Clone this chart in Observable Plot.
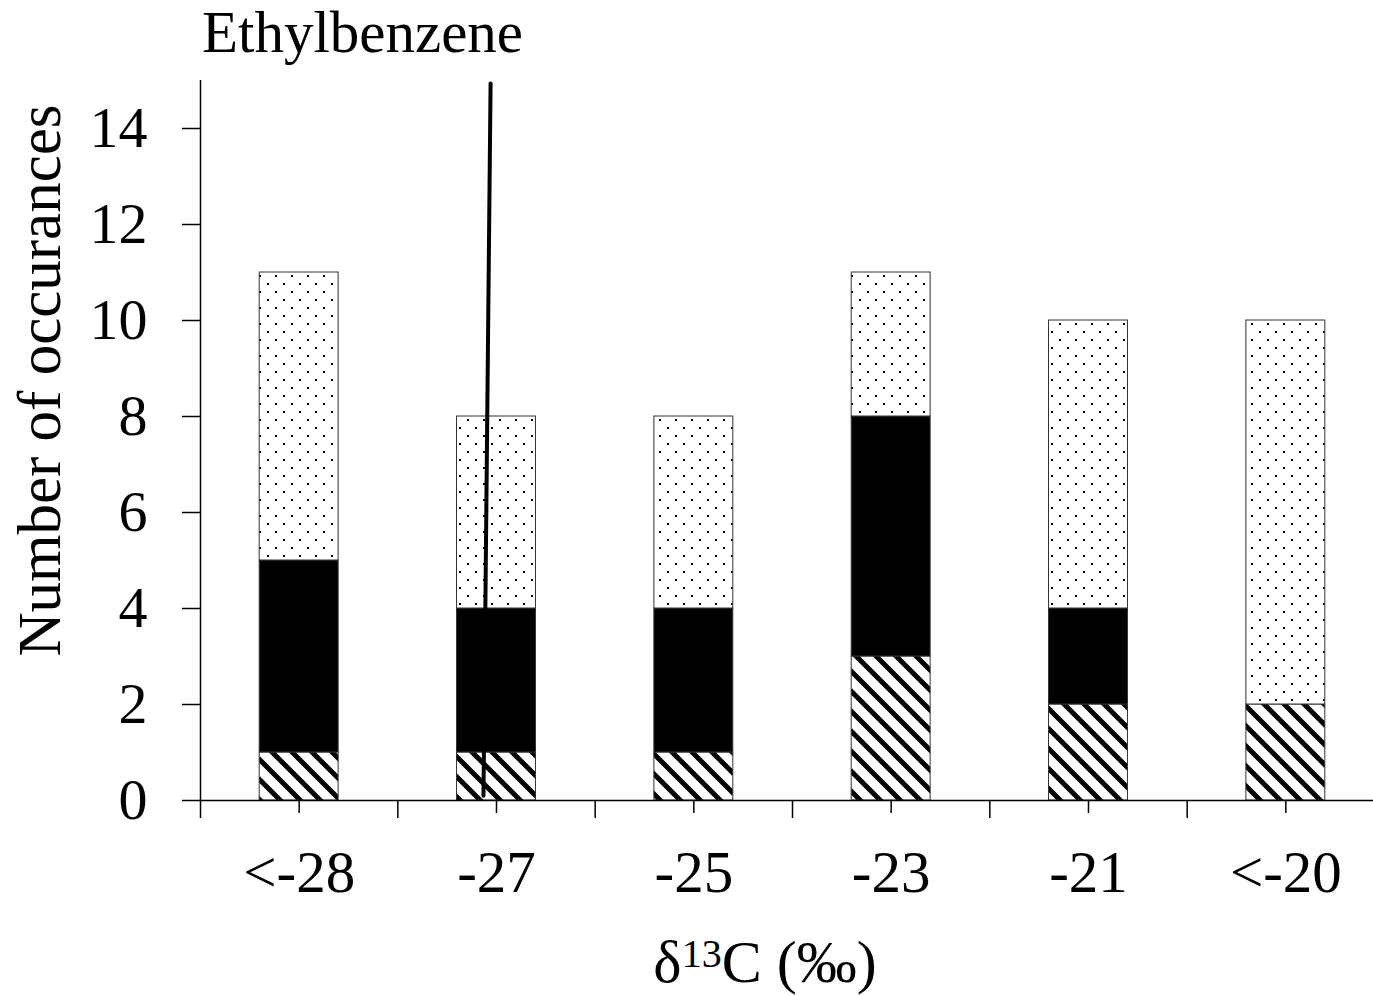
<!DOCTYPE html>
<html>
<head>
<meta charset="utf-8">
<script src="https://cdn.jsdelivr.net/npm/d3@7"></script>
<script src="https://cdn.jsdelivr.net/npm/@observablehq/plot@0.6"></script>
<style>
  html, body { margin: 0; padding: 0; background: white; overflow: hidden; }
  #chart svg { display: block; }
</style>
</head>
<body>
<div id="chart"></div>
<script>
// ---- data ----
const categories = ["<-28", "-27", "-25", "-23", "-21", "<-20"];
const series = ["hatched", "solid", "dotted"];
const hatchedCounts = [1, 1, 1, 3, 2, 2];
const solidCounts = [4, 3, 3, 5, 2, 0];
const dottedCounts = [6, 4, 4, 3, 6, 8];
const yTicks = [0, 2, 4, 6, 8, 10, 12, 14];
const ethylLabel = "Ethylbenzene";
// Ethylbenzene marker (x in category-index units, y in occurrences)
const ethylX = [0.934, 0.97];
const ethylY = [0.1, 14.94];

// ---- build tables ----
const seriesValues = {hatched: hatchedCounts, solid: solidCounts, dotted: dottedCounts};
const rows = [];
categories.forEach((cat, i) => {
  series.forEach(s => {
    const v = seriesValues[s][i];
    if (v > 0) rows.push({i, cat, series: s, value: v});
  });
});
const ethylLine = ethylX.map((x, k) => ({x, y: ethylY[k]}));
const centers = categories.map((_, i) => i);
const bounds = d3.range(-0.5, categories.length + 0.5, 1);
const half = 0.2;

const font = "Liberation Serif, Times New Roman, serif";

const chart = Plot.plot({
  width: 1373,
  height: 995,
  marginLeft: 200,
  marginRight: 0,
  marginTop: 80,
  marginBottom: 195,
  style: {fontFamily: font, fontSize: "59px", color: "black", background: "white"},
  x: {domain: [-0.5, categories.length - 0.5], range: [200, 1384], axis: null},
  y: {domain: [0, 15], axis: null},
  color: {domain: series, range: ["url(#hatch)", "black", "url(#dots)"]},
  marks: [
    Plot.rectY(rows, Plot.stackY({
      x1: d => d.i - half,
      x2: d => d.i + half,
      y: "value",
      fill: "series",
      stroke: "#333",
      strokeWidth: 1
    })),
    Plot.ruleY([0], {stroke: "black", strokeWidth: 1.5}),
    Plot.ruleX([-0.5], {y1: 0, y2: 15, stroke: "black", strokeWidth: 1.5}),
    Plot.axisY({ticks: yTicks, tickSize: 18, tickPadding: 35, fontSize: 58, label: null, strokeWidth: 1.5}),
    Plot.axisX({ticks: centers, tickFormat: i => categories[i], tickSize: 13, tickPadding: 37, fontSize: 59, label: null, strokeWidth: 1.5}),
    Plot.axisX({ticks: bounds, tickFormat: () => "", tickSize: 18, label: null, strokeWidth: 1.5}),
    Plot.line(ethylLine, {x: "x", y: "y", stroke: "black", strokeWidth: 4}),
    Plot.text([ethylLabel], {frameAnchor: "top-left", dx: 162, dy: -29, textAnchor: "middle", lineAnchor: "bottom", fontSize: 59}),
    Plot.text(["Number of occurances"], {frameAnchor: "left", dx: -160, dy: -60, rotate: -90, textAnchor: "middle", fontSize: 61})
  ]
});

document.getElementById("chart").appendChild(chart);

// ---- patterns ----
const svg = d3.select(chart);
const defs = svg.insert("defs", ":first-child");
const hatch = defs.append("pattern").attr("id", "hatch")
  .attr("patternUnits", "userSpaceOnUse").attr("width", 20).attr("height", 20);
hatch.append("rect").attr("width", 20).attr("height", 20).attr("fill", "white");
hatch.append("path").attr("d", "M-5,-5L25,25M-5,15L5,25M15,-5L25,5")
  .attr("stroke", "black").attr("stroke-width", 5).attr("fill", "none");
const dots = defs.append("pattern").attr("id", "dots")
  .attr("patternUnits", "userSpaceOnUse").attr("width", 16).attr("height", 16);
dots.append("rect").attr("width", 16).attr("height", 16).attr("fill", "white");
dots.append("rect").attr("x", 3).attr("y", 3).attr("width", 2).attr("height", 2).attr("fill", "black");
dots.append("rect").attr("x", 11).attr("y", 11).attr("width", 2).attr("height", 2).attr("fill", "black");

// ---- x-axis title with superscript ----
const xt = svg.append("text")
  .attr("x", 765).attr("y", 982)
  .attr("text-anchor", "middle")
  .attr("font-family", font)
  .attr("font-size", 60)
  .attr("fill", "black");
xt.append("tspan").text("δ");
xt.append("tspan").attr("font-size", 40).attr("dy", -15).text("13");
xt.append("tspan").attr("dy", 15).text("C (‰)");
</script>
</body>
</html>
